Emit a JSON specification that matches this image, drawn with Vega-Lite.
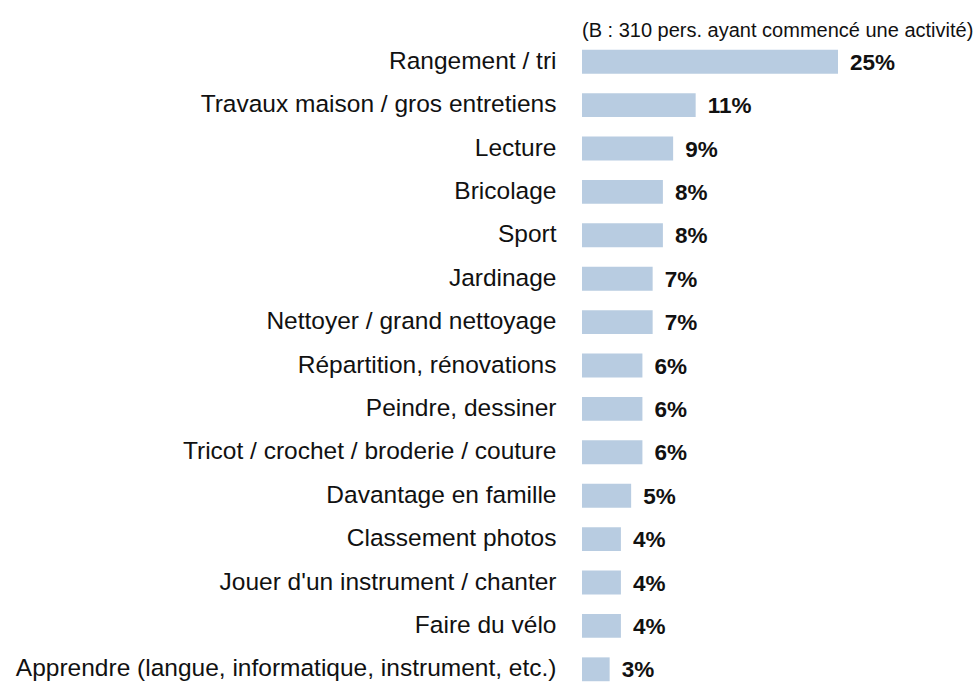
{
  "$schema": "https://vega.github.io/schema/vega-lite/v6.json",
  "autosize": {"type": "none"},
  "width": 256,
  "height": {"step": 43.4},
  "padding": {"left": 582, "top": 40, "right": 138, "bottom": 0},
  "background": "white",
  "title": {
    "text": "(B : 310 pers. ayant commencé une activité)",
    "anchor": "start",
    "frame": "group",
    "font": "Liberation Sans",
    "fontSize": 20,
    "fontWeight": "normal",
    "color": "#111111",
    "offset": -1
  },
  "data": {
    "values": [
      {"activite": "Rangement / tri", "valeur": 25.0, "label": "25%"},
      {"activite": "Travaux maison / gros entretiens", "valeur": 11.1, "label": "11%"},
      {"activite": "Lecture", "valeur": 8.9, "label": "9%"},
      {"activite": "Bricolage", "valeur": 7.9, "label": "8%"},
      {"activite": "Sport", "valeur": 7.9, "label": "8%"},
      {"activite": "Jardinage", "valeur": 6.9, "label": "7%"},
      {"activite": "Nettoyer / grand nettoyage", "valeur": 6.9, "label": "7%"},
      {"activite": "Répartition, rénovations", "valeur": 5.9, "label": "6%"},
      {"activite": "Peindre, dessiner", "valeur": 5.9, "label": "6%"},
      {"activite": "Tricot / crochet / broderie / couture", "valeur": 5.9, "label": "6%"},
      {"activite": "Davantage en famille", "valeur": 4.8, "label": "5%"},
      {"activite": "Classement photos", "valeur": 3.8, "label": "4%"},
      {"activite": "Jouer d'un instrument / chanter", "valeur": 3.8, "label": "4%"},
      {"activite": "Faire du vélo", "valeur": 3.8, "label": "4%"},
      {"activite": "Apprendre (langue, informatique, instrument, etc.)", "valeur": 2.7, "label": "3%"}
    ]
  },
  "encoding": {
    "y": {
      "field": "activite",
      "type": "nominal",
      "sort": null,
      "title": null,
      "scale": {"paddingInner": 0.45, "paddingOuter": 0.225},
      "axis": {
        "ticks": false,
        "domain": false,
        "grid": false,
        "labelFont": "Liberation Sans",
        "labelFontSize": 24.5,
        "labelColor": "#111111",
        "labelPadding": 26,
        "labelLimit": 0
      }
    },
    "x": {
      "field": "valeur",
      "type": "quantitative",
      "scale": {"domain": [0, 25], "nice": false, "zero": true},
      "axis": null
    }
  },
  "layer": [
    {"mark": {"type": "bar", "color": "#b8cce1"}},
    {
      "mark": {
        "type": "text",
        "align": "left",
        "baseline": "middle",
        "dx": 12,
        "dy": 1,
        "font": "Liberation Sans",
        "fontWeight": "bold",
        "fontSize": 22.5,
        "color": "#111111"
      },
      "encoding": {"text": {"field": "label"}}
    }
  ],
  "config": {"view": {"stroke": null}}
}
